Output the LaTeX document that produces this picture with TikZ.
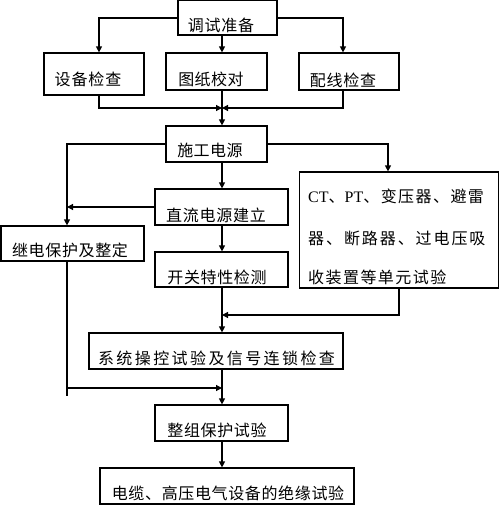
\documentclass[tikz,border=0pt]{standalone}
\usepackage{fontspec}
\newfontfamily\cjk{Noto Sans CJK SC}
\newfontfamily\tnr{Liberation Serif}
\usetikzlibrary{arrows.meta}
\begin{document}
\begin{tikzpicture}[x=1pt,y=-1pt,
  box/.style={draw, line width=1.2pt, inner sep=0pt},
  txt/.style={inner sep=0pt, font=\cjk\fontsize{16}{20}\selectfont\addfontfeatures{LetterSpace=#1}},
  txt/.default=4,
  conn/.style={line width=1.2pt},
  arr/.style={line width=1.2pt, -{Triangle[length=6pt,width=6pt]}}]
\useasboundingbox (0,0) rectangle (500,506);
\coordinate (spine) at (222,0);
% boxes
\node[box, minimum width=99pt, minimum height=35pt] (A) at (227.5,17.5) {};
\node[box, minimum width=100pt, minimum height=42pt] (B1) at (94,74) {};
\node[box, minimum width=101pt, minimum height=37pt] (B2) at (216.5,71.5) {};
\node[box, minimum width=100pt, minimum height=37pt] (B3) at (349,71.5) {};
\node[box, minimum width=101pt, minimum height=36pt] (C) at (216.5,144) {};
\node[box, minimum width=133pt, minimum height=36pt] (E) at (221.5,207) {};
\node[box, minimum width=143pt, minimum height=35pt] (D) at (72.5,243.5) {};
\node[box, minimum width=133pt, minimum height=35pt] (F) at (221.5,269.5) {};
\node[box, minimum width=199pt, minimum height=116pt] (G) at (399,230) {};
\node[box, minimum width=254pt, minimum height=36pt] (H) at (216,351) {};
\node[box, minimum width=133pt, minimum height=36pt] (I) at (221.5,423) {};
\node[box, minimum width=254pt, minimum height=36pt] (J) at (227,486) {};
% texts
\node[txt=5] (At) at (221,25) {调试准备};
\node[txt=6] (B1t) at (88,79.5) {设备检查};
\node[txt=3] (B2t) at (211,79.5) {图纸校对};
\node[txt=5] (B3t) at (343,80) {配线检查};
\node[txt=3] (Ct) at (210,150) {施工电源};
\node[txt=5] (Et) at (216,215) {直流电源建立};
\node[txt=4] (Dt) at (70,250) {继电保护及整定};
\node[txt=4] (Ft) at (217,277) {开关特性检测};
\node[txt=9, anchor=west] (G1) at (308,196) {{\tnr CT}、{\tnr PT}、变压器、避雷};
\node[txt=12, anchor=west] (G2) at (308,238) {器、断路器、过电压吸};
\node[txt=9, anchor=west] (G3) at (308,277) {收装置等单元试验};
\node[txt=15] (Ht) at (216.5,358) {系统操控试验及信号连锁检查};
\node[txt=4] (It) at (217,430) {整组保护试验};
\node[txt=4] (Jt) at (228,493) {电缆、高压电气设备的绝缘试验};
% coordinates for connector bends
\coordinate (lx) at (67,0);
\coordinate (merge) at (0,108);
\coordinate (rx) at (388,0);
\coordinate (gy) at (0,315);
\coordinate (dy) at (0,388);
\coordinate (dend) at (67,396);
% connectors
\draw[arr] (A.west |- 0,18) -| (B1.north -| 99,0);
\draw[arr] (A.east |- 0,18) -| (B3.north -| 343,0);
\draw[arr] (A.south -| spine) -- (B2.north -| spine);
\draw[arr] (B1.south -| 99,0) |- (merge -| spine);
\draw[arr] (B3.south -| 343,0) |- (merge -| spine);
\draw[arr] (B2.south -| spine) -- (C.north -| spine);
\draw[arr] (C.west) -| (D.north -| lx);
\draw[arr] (C.east) -| (G.north -| rx);
\draw[arr] (C.south -| spine) -- (E.north -| spine);
\draw[arr] (E.west) -- (E.west -| lx);
\draw[arr] (E.south -| spine) -- (F.north -| spine);
\draw[arr] (G.south) |- (gy -| spine);
\draw[arr] (F.south -| spine) -- (H.north -| spine);
\draw[conn] (D.south -| lx) -- (dend);
\draw[arr] (dy -| lx) -- (dy -| spine);
\draw[arr] (H.south -| spine) -- (I.north -| spine);
\draw[arr] (I.south -| spine) -- (J.north -| spine);
\end{tikzpicture}
\end{document}
